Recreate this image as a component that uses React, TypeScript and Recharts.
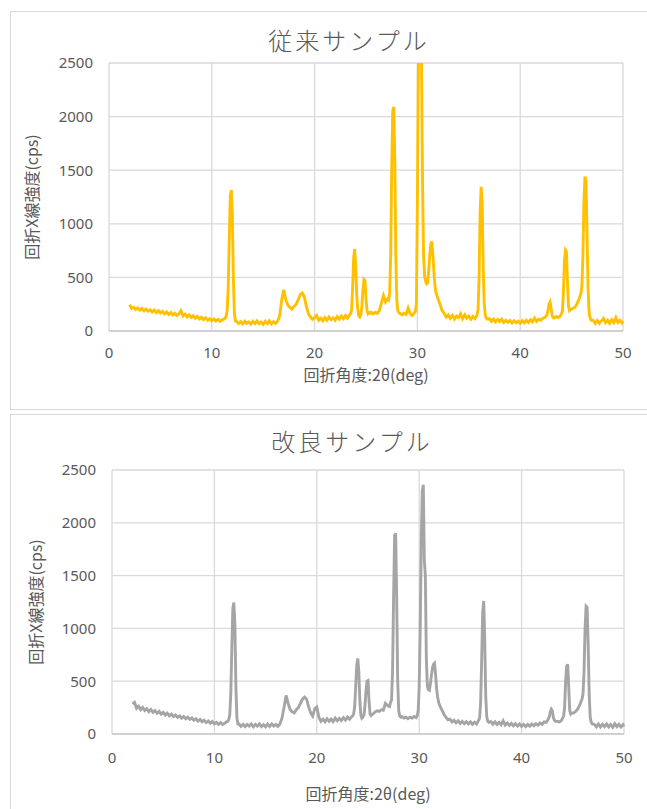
import { LineChart, Line, XAxis, YAxis, CartesianGrid, Label } from "recharts";

// 2θ sampling points (denser around the peaks)
const twoTheta = [
  2.0, 2.2, 2.4, 2.6, 2.8, 3.0, 3.2, 3.4, 3.6, 3.8, 4.0, 4.2, 4.4, 4.6, 4.8, 5.0, 5.2, 5.4, 5.6, 5.8,
  6.0, 6.2, 6.4, 6.6, 6.8, 7.0, 7.2, 7.4, 7.6, 7.8, 8.0, 8.2, 8.4, 8.6, 8.8, 9.0, 9.2, 9.4, 9.6, 9.8,
  10.0, 10.2, 10.4, 10.6, 10.8, 11.0, 11.2,
  11.3, 11.4, 11.5, 11.6, 11.7, 11.8, 11.9, 12.0, 12.1, 12.2, 12.3,
  12.4, 12.6, 12.8, 13.0, 13.2, 13.4, 13.6, 13.8, 14.0, 14.2, 14.4, 14.6, 14.8, 15.0, 15.2, 15.4, 15.6, 15.8, 16.0, 16.2, 16.4, 16.6,
  16.8, 17.0, 17.2, 17.4, 17.6, 17.8, 18.0, 18.2, 18.4, 18.6, 18.8, 19.0, 19.2, 19.4, 19.6, 19.8, 20.0, 20.2, 20.4,
  20.6, 20.8, 21.0, 21.2, 21.4, 21.6, 21.8, 22.0, 22.2, 22.4, 22.6, 22.8, 23.0, 23.2, 23.4,
  23.5, 23.6, 23.7, 23.8, 23.9, 24.0, 24.1, 24.2, 24.3, 24.4, 24.5, 24.6, 24.7, 24.8, 24.9, 25.0, 25.1, 25.2, 25.3, 25.4, 25.5,
  25.7, 25.9, 26.1, 26.3, 26.5, 26.7, 26.9, 27.1, 27.2,
  27.3, 27.4, 27.5, 27.6, 27.7, 27.8, 27.9, 28.0, 28.1, 28.2, 28.3,
  28.5, 28.7, 28.9, 29.1, 29.3, 29.5, 29.7,
  29.8, 29.9, 30.0, 30.1, 30.2, 30.3, 30.4, 30.5, 30.6, 30.7, 30.8, 30.9, 31.0, 31.1, 31.2, 31.3, 31.4, 31.5, 31.6, 31.7, 31.8, 31.9, 32.0,
  32.2, 32.4, 32.6, 32.8, 33.0, 33.2, 33.4, 33.6, 33.8, 34.0, 34.2, 34.4, 34.6, 34.8, 35.0, 35.2, 35.4, 35.6, 35.8,
  35.9, 36.0, 36.1, 36.2, 36.3, 36.4, 36.5, 36.6, 36.7, 36.8,
  37.0, 37.2, 37.4, 37.6, 37.8, 38.0, 38.2, 38.4, 38.6, 38.8, 39.0, 39.2, 39.4, 39.6, 39.8, 40.0, 40.2, 40.4, 40.6, 40.8,
  41.0, 41.2, 41.4, 41.6, 41.8, 42.0, 42.2, 42.4, 42.6,
  42.7, 42.8, 42.9, 43.0, 43.1, 43.2, 43.3,
  43.5, 43.7, 43.9, 44.1,
  44.2, 44.3, 44.4, 44.5, 44.6, 44.7, 44.8, 44.9,
  45.1, 45.3, 45.5, 45.7, 45.9,
  46.0, 46.1, 46.2, 46.3, 46.4, 46.5, 46.6, 46.7, 46.8, 46.9,
  47.1, 47.3, 47.5, 47.7, 47.9, 48.1, 48.3, 48.5, 48.7, 48.9, 49.1, 49.3, 49.5, 49.7, 49.9, 50.0,
];

// 従来サンプル (cps)
const conventionalCps = [
  245, 212, 222, 200, 215, 196, 210, 188, 205, 185, 198, 178, 195, 172, 190, 168, 184, 160, 178, 155,
  172, 150, 165, 145, 160, 190, 140, 158, 132, 150, 126, 142, 120, 136, 112, 128, 105, 122, 100, 115,
  96, 112, 92, 108, 90, 104, 112,
  120, 140, 200, 420, 850, 1260, 1315, 1080, 480, 160, 95,
  90, 70, 88, 66, 92, 72, 85, 64, 90, 70, 94, 68, 84, 62, 90, 70, 95, 66, 88, 70, 92, 140,
  290, 385, 290, 240, 220, 205, 230, 250, 290, 340, 355, 320, 230, 160, 130, 110, 125, 145, 100,
  120, 95, 125, 100, 130, 105, 122, 100, 135, 110, 140, 115, 145, 120, 150,
  160, 200, 400, 680, 765, 600, 330, 200, 140, 130, 150, 230, 380, 480, 470, 300, 190, 160, 170, 165, 175,
  160, 175, 165, 190, 260, 330, 270, 300, 290,
  350, 700, 1500, 2050, 2090, 1600, 700, 280, 190, 170, 165,
  150, 165, 155, 215, 160, 145, 170,
  180, 250, 1200, 2600, 2900, 2900, 2500, 1400, 700, 520, 460, 440, 450, 560, 700, 810, 835, 720, 560, 430, 360, 330, 300,
  250, 190, 165, 130, 150, 118, 145, 112, 140, 125, 160, 115, 150, 120, 140, 110, 135, 115, 150,
  200, 500, 1100, 1345, 1200, 600, 250, 150, 120, 110,
  115, 90, 112, 85, 108, 88, 110, 80, 100, 82, 98, 75, 95, 78, 92, 72, 96, 76, 100, 80,
  105, 85, 120, 90, 110, 100, 118, 125, 150,
  190, 250, 270, 220, 150, 125, 120,
  135, 125, 140, 180,
  350, 650, 755, 740, 450, 230, 190, 200,
  210, 220, 250, 290, 350,
  420, 700, 1200, 1440, 1400, 900, 400, 180, 120, 100,
  100, 70, 98, 72, 95, 118, 78, 100, 70, 105, 78, 125, 80, 100, 75, 95,
];

// 改良サンプル (cps)
const improvedCps = [
  285, 300, 245, 262, 230, 252, 222, 240, 212, 232, 205, 222, 198, 215, 188, 205, 180, 198, 172, 188,
  165, 180, 158, 172, 150, 166, 145, 160, 138, 152, 130, 145, 122, 138, 116, 130, 108, 124, 102, 118,
  96, 110, 92, 108, 90, 102, 115,
  120, 135, 180, 380, 800, 1190, 1245, 1040, 440, 150, 95,
  95, 72, 92, 70, 90, 75, 95, 68, 92, 74, 96, 70, 88, 68, 94, 72, 96, 75, 90, 72, 95, 150,
  250, 365, 290, 230, 210, 200, 230, 250, 290, 330, 350, 330, 260, 200, 170, 240, 255, 160, 120,
  140, 115, 145, 120, 140, 118, 150, 125, 148, 128, 155, 132, 160, 140, 165,
  170, 190, 260, 450, 650, 715, 600, 320, 180, 150, 160, 180, 260, 400, 500, 505, 320, 190, 175, 185, 190,
  210, 220, 215, 230, 225, 290, 270, 260, 300,
  320, 600, 1300, 1880, 1900, 1300, 500, 220, 170, 160, 165,
  150, 160, 145, 160, 150, 165, 155,
  170, 220, 450, 1000, 1800, 2300, 2360, 1650, 1500, 700, 450, 420, 415, 480, 560, 630, 660, 670, 560, 430, 350, 300, 270,
  230, 190, 160, 135, 140, 115, 130, 105, 125, 100, 120, 98, 118, 96, 115, 92, 112, 95, 130,
  150, 300, 700, 1150, 1260, 900, 350, 160, 120, 110,
  118, 92, 115, 90, 110, 88, 125, 85, 105, 82, 100, 78, 98, 75, 95, 72, 92, 70, 90, 74,
  95, 78, 98, 82, 105, 90, 115, 110, 140,
  160, 210, 235, 220, 160, 130, 120,
  120, 115, 130, 170,
  250, 500, 640, 660, 450, 220, 190, 200,
  200, 215, 240, 280, 330,
  380, 600, 1000, 1210, 1200, 850, 380, 160, 110, 95,
  92, 68, 95, 66, 92, 70, 96, 68, 90, 64, 98, 70, 92, 66, 88, 72,
];

const xTicks = [0, 10, 20, 30, 40, 50];
const yTicks = [0, 500, 1000, 1500, 2000, 2500];
const xTitle = "回折角度:2θ(deg)";
const yTitle = "回折X線強度(cps)";

const rows = twoTheta.map((x, i) => ({
  x,
  conventional: conventionalCps[i],
  improved: improvedCps[i],
}));

const TEXT = "#595959";
const GRID = "#d9d9d9";
const NUM_FONT = "'Liberation Sans Narrow', 'Noto Sans', sans-serif";
const JP_FONT = "'Noto Sans CJK JP', 'Noto Sans', sans-serif";

type PanelProps = {
  title: string;
  dataKey: string;
  color: string;
  boxTop: number;
  boxHeight: number;
  chartTop: number;
  titleX: number;
  titleY: number;
  yAxisWidth: number;
  rightMargin: number;
  bottomMargin: number;
  xAxisHeight: number;
  xTickMargin: number;
  xTitleOffset: number;
  yTitleOffset: number;
};

function Panel(p: PanelProps) {
  return (
    <>
      <div
        style={{
          position: "absolute",
          left: 10,
          top: p.boxTop,
          width: 700,
          height: p.boxHeight,
          border: `1px solid ${GRID}`,
          background: "#fff",
          boxSizing: "border-box",
        }}
      />
      <div
        style={{
          position: "absolute",
          left: p.titleX - 150,
          width: 300,
          top: p.titleY - 17,
          height: 34,
          lineHeight: "34px",
          textAlign: "center",
          fontFamily: JP_FONT,
          fontWeight: 300,
          fontSize: 24,
          letterSpacing: 3,
          color: TEXT,
        }}
      >
        {p.title}
      </div>
      <div style={{ position: "absolute", left: 0, top: p.chartTop }}>
        <LineChart
          width={647}
          height={410}
          data={rows}
          margin={{ top: 63, right: p.rightMargin, bottom: p.bottomMargin, left: 0 }}
        >
          <CartesianGrid stroke={GRID} strokeWidth={1.3} horizontalValues={yTicks} verticalValues={xTicks} />
          <XAxis
            dataKey="x"
            type="number"
            domain={[0, 50]}
            ticks={xTicks}
            height={p.xAxisHeight}
            tickLine={false}
            tickSize={0}
            tickMargin={p.xTickMargin}
            axisLine={{ stroke: "#bfbfbf" }}
            tick={{ fill: TEXT, fontSize: 15, fontFamily: NUM_FONT }}
          >
            <Label
              value={xTitle}
              position="insideBottom"
              offset={p.xTitleOffset}
              style={{ fill: TEXT, fontSize: 16, fontFamily: JP_FONT }}
            />
          </XAxis>
          <YAxis
            type="number"
            domain={[0, 2500]}
            ticks={yTicks}
            allowDataOverflow
            width={p.yAxisWidth}
            tickLine={false}
            tickSize={0}
            tickMargin={16}
            axisLine={false}
            tick={{ fill: TEXT, fontSize: 15, fontFamily: NUM_FONT }}
          >
            <Label
              value={yTitle}
              angle={-90}
              position="insideLeft"
              offset={p.yTitleOffset}
              style={{ fill: TEXT, fontSize: 16, fontFamily: JP_FONT, textAnchor: "middle" }}
            />
          </YAxis>
          <Line
            dataKey={p.dataKey}
            stroke={p.color}
            strokeWidth={2.9}
            dot={false}
            type="linear"
            isAnimationActive={false}
          />
        </LineChart>
      </div>
    </>
  );
}

export default function App() {
  return (
    <div
      style={{
        position: "absolute",
        left: 0,
        top: 0,
        width: 647,
        height: 809,
        overflow: "hidden",
        background: "#fff",
      }}
    >
      <Panel
        title="従来サンプル"
        dataKey="conventional"
        color="#ffc000"
        boxTop={11}
        boxHeight={399}
        chartTop={0}
        titleX={349}
        titleY={40}
        yAxisWidth={109}
        rightMargin={24}
        bottomMargin={18}
        xAxisHeight={61}
        xTickMargin={16}
        xTitleOffset={11}
        yTitleOffset={32}
      />
      <Panel
        title="改良サンプル"
        dataKey="improved"
        color="#a5a5a5"
        boxTop={414}
        boxHeight={420}
        chartTop={407}
        titleX={352}
        titleY={441}
        yAxisWidth={112}
        rightMargin={23}
        bottomMargin={8}
        xAxisHeight={75}
        xTickMargin={18}
        xTitleOffset={9}
        yTitleOffset={36}
      />
    </div>
  );
}
